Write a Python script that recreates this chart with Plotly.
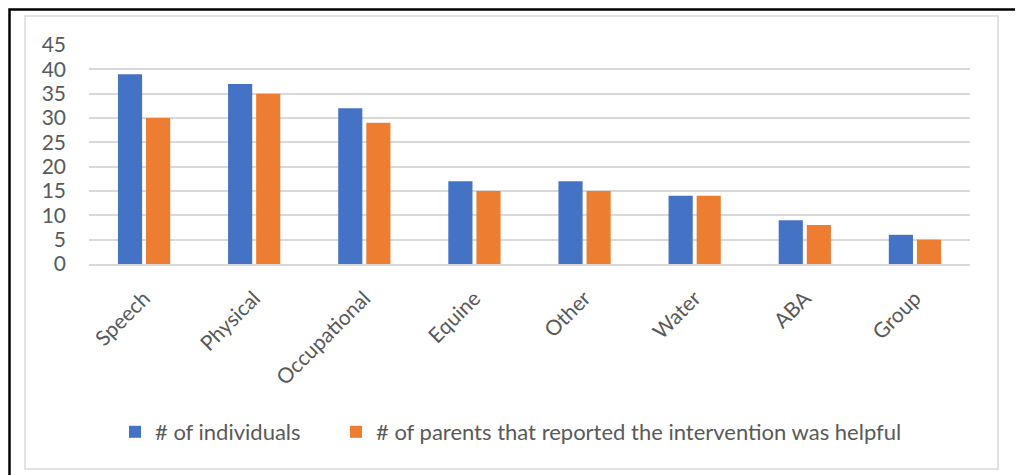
import plotly.graph_objects as go

categories = ["Speech", "Physical", "Occupational", "Equine", "Other", "Water", "ABA", "Group"]
individuals = [39, 37, 32, 17, 17, 14, 9, 6]
helpful = [30, 35, 29, 15, 15, 14, 8, 5]
series_names = ["# of individuals", "# of parents that reported the intervention was helpful"]
y_ticks = [0, 5, 10, 15, 20, 25, 30, 35, 40, 45]

OFF = 8  # page body margin
W, H = 1023 - OFF, 475 - OFF
L, R, T, B = 89 - OFF, 970 - OFF, 45 - OFF, 264 - OFF

def px(x):
    return (x - OFF - L) / (R - L)

def py(y):
    return (B - (y - OFF)) / (B - T)

fig = go.Figure()
fig.add_trace(go.Bar(x=categories, y=individuals, name=series_names[0],
                     marker=dict(color="#4472C4", line=dict(width=0)),
                     legend="legend"))
fig.add_trace(go.Bar(x=categories, y=helpful, name=series_names[1],
                     marker=dict(color="#ED7D31", line=dict(width=0)),
                     legend="legend2"))

legend_common = dict(orientation="h", xref="container", yref="container",
                     xanchor="left", y=1 - (432 - OFF) / H, yanchor="middle",
                     font=dict(size=22, color="#595959"), itemwidth=30,
                     bgcolor="rgba(0,0,0,0)")

fig.update_layout(
    width=W, height=H,
    margin=dict(l=L, r=W - R, t=T, b=H - B),
    paper_bgcolor="white", plot_bgcolor="white",
    barmode="group", bargap=0.49, bargroupgap=0.14,
    font=dict(family="Lato", color="#595959"),
    showlegend=True,
    legend=dict(x=(115 - OFF) / W, **legend_common),
    legend2=dict(x=(336 - OFF) / W, **legend_common),
    xaxis=dict(showgrid=False, showline=True, linecolor="#D9D9D9", linewidth=1.5,
               tickangle=-45, tickfont=dict(size=21, color="#595959"), ticks="",
               ticklabelstandoff=12),
    yaxis=dict(range=[0, 45], tickvals=y_ticks, showgrid=True, gridcolor="#D9D9D9",
               gridwidth=1.5, zeroline=False, showline=False, ticks="",
               tickfont=dict(size=21, color="#595959"), ticklabelstandoff=22),
    shapes=[
        dict(type="rect", xref="paper", yref="paper",
             x0=px(25), x1=px(998), y0=py(469), y1=py(16),
             line=dict(color="#D9D9D9", width=1.5), layer="below"),
        dict(type="rect", xref="paper", yref="paper",
             x0=px(OFF + 1.5), x1=px(1018), y0=py(480), y1=py(OFF + 1.5),
             line=dict(color="black", width=2.5), layer="below"),
    ],
)

fig.write_html("out.html")
